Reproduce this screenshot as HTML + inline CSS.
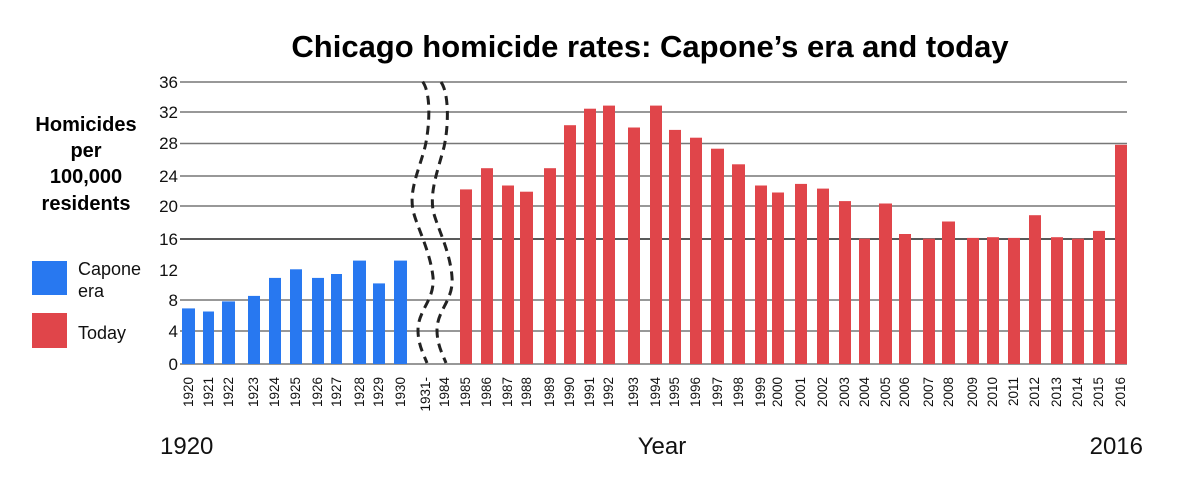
<!DOCTYPE html>
<html><head><meta charset="utf-8"><style>
body{margin:0;background:#fff;}
svg{display:block;font-family:"Liberation Sans",sans-serif;}
</style></head><body>
<svg width="1200" height="481" viewBox="0 0 1200 481" xmlns="http://www.w3.org/2000/svg">
<rect width="1200" height="481" fill="#fff"/>
<text x="650" y="57" font-size="31" font-weight="bold" text-anchor="middle" fill="#000">Chicago homicide rates: Capone’s era and today</text>
<g font-size="20" font-weight="bold" text-anchor="middle" fill="#000">
<text x="86" y="131">Homicides</text>
<text x="86" y="157">per</text>
<text x="86" y="183">100,000</text>
<text x="86" y="210">residents</text>
</g>
<rect x="32" y="261" width="35" height="34" fill="#2878f0"/>
<rect x="32" y="313" width="35" height="35" fill="#e0454a"/>
<g font-size="18" fill="#111">
<text x="78" y="275">Capone</text>
<text x="78" y="297">era</text>
<text x="78" y="339">Today</text>
</g>
<g stroke="#777" stroke-width="1.5">
<line x1="180" y1="82" x2="1127" y2="82"/>
<line x1="180" y1="112" x2="1127" y2="112"/>
<line x1="180" y1="143.5" x2="1127" y2="143.5"/>
<line x1="180" y1="176" x2="1127" y2="176"/>
<line x1="180" y1="206" x2="1127" y2="206"/>
<line x1="180" y1="239" x2="1127" y2="239" stroke="#222"/>
<line x1="180" y1="300" x2="1127" y2="300"/>
<line x1="180" y1="331" x2="1127" y2="331"/>
<line x1="180" y1="364" x2="1127" y2="364"/>
</g>
<g font-size="17" text-anchor="end" fill="#111">
<text x="178" y="88">36</text><text x="178" y="118">32</text><text x="178" y="149">28</text>
<text x="178" y="182">24</text><text x="178" y="212">20</text><text x="178" y="245">16</text>
<text x="178" y="276">12</text><text x="178" y="306">8</text><text x="178" y="337">4</text><text x="178" y="370">0</text>
</g>
<g fill="#2878f0">
<rect x="182" y="308.4" width="13" height="55.6"/>
<rect x="203" y="311.5" width="11" height="52.5"/>
<rect x="222" y="301.4" width="13" height="62.6"/>
<rect x="248" y="295.9" width="12" height="68.1"/>
<rect x="269" y="277.9" width="12" height="86.1"/>
<rect x="290" y="269.3" width="12" height="94.7"/>
<rect x="312" y="277.9" width="12" height="86.1"/>
<rect x="331" y="274" width="11" height="90"/>
<rect x="353" y="260.6" width="13" height="103.4"/>
<rect x="373" y="283.4" width="12" height="80.6"/>
<rect x="394" y="260.6" width="13" height="103.4"/>
</g>
<g fill="#e0454a">
<rect x="460" y="189.4" width="12" height="174.6"/>
<rect x="481" y="168.2" width="12" height="195.8"/>
<rect x="502" y="185.5" width="12" height="178.5"/>
<rect x="520" y="191.7" width="13" height="172.3"/>
<rect x="544" y="168.2" width="12" height="195.8"/>
<rect x="564" y="125.2" width="12" height="238.8"/>
<rect x="584" y="108.7" width="12" height="255.3"/>
<rect x="603" y="105.6" width="12" height="258.4"/>
<rect x="628" y="127.5" width="12" height="236.5"/>
<rect x="650" y="105.6" width="12" height="258.4"/>
<rect x="669" y="129.9" width="12" height="234.1"/>
<rect x="690" y="137.7" width="12" height="226.3"/>
<rect x="711" y="148.7" width="13" height="215.3"/>
<rect x="732" y="164.3" width="13" height="199.7"/>
<rect x="755" y="185.5" width="12" height="178.5"/>
<rect x="772" y="192.5" width="12" height="171.5"/>
<rect x="795" y="183.9" width="12" height="180.1"/>
<rect x="817" y="188.6" width="12" height="175.4"/>
<rect x="839" y="201.1" width="12" height="162.9"/>
<rect x="859" y="238.7" width="11" height="125.3"/>
<rect x="879" y="203.5" width="13" height="160.5"/>
<rect x="899" y="234" width="12" height="130"/>
<rect x="923" y="238.7" width="12" height="125.3"/>
<rect x="942" y="221.5" width="13" height="142.5"/>
<rect x="967" y="237.9" width="12" height="126.1"/>
<rect x="987" y="237.2" width="12" height="126.8"/>
<rect x="1008" y="237.9" width="12" height="126.1"/>
<rect x="1029" y="215.2" width="12" height="148.8"/>
<rect x="1051" y="237.2" width="12" height="126.8"/>
<rect x="1072" y="238.7" width="12" height="125.3"/>
<rect x="1093" y="230.9" width="12" height="133.1"/>
<rect x="1115" y="144.8" width="12" height="219.2"/>
</g>
<g fill="none" stroke="#222" stroke-width="3" stroke-dasharray="9,6">
<path d="M422.7,81.7 C432,95 429,130 425,147 C419,170 409,190 413,210 C416,225 430,250 433,277 C435,300 418,310 418,330 C418,345 424,355 427,363"/>
<path d="M441,82 C450,95 448,130 444,147 C438,170 430,190 433,210 C436,225 450,250 452,277 C454,300 437,310 437,330 C437,345 443,355 446,363"/>
</g>
<g font-size="13.5" text-anchor="end" fill="#111">
<text transform="translate(193,377) rotate(-90)">1920</text>
<text transform="translate(213,377) rotate(-90)">1921</text>
<text transform="translate(233,377) rotate(-90)">1922</text>
<text transform="translate(258,377) rotate(-90)">1923</text>
<text transform="translate(279,377) rotate(-90)">1924</text>
<text transform="translate(300,377) rotate(-90)">1925</text>
<text transform="translate(322,377) rotate(-90)">1926</text>
<text transform="translate(341,377) rotate(-90)">1927</text>
<text transform="translate(364,377) rotate(-90)">1928</text>
<text transform="translate(383,377) rotate(-90)">1929</text>
<text transform="translate(405,377) rotate(-90)">1930</text>
<text transform="translate(430,377) rotate(-90)">1931-</text>
<text transform="translate(449,377) rotate(-90)">1984</text>
<text transform="translate(470,377) rotate(-90)">1985</text>
<text transform="translate(491,377) rotate(-90)">1986</text>
<text transform="translate(512,377) rotate(-90)">1987</text>
<text transform="translate(531,377) rotate(-90)">1988</text>
<text transform="translate(554,377) rotate(-90)">1989</text>
<text transform="translate(574,377) rotate(-90)">1990</text>
<text transform="translate(594,377) rotate(-90)">1991</text>
<text transform="translate(613,377) rotate(-90)">1992</text>
<text transform="translate(638,377) rotate(-90)">1993</text>
<text transform="translate(660,377) rotate(-90)">1994</text>
<text transform="translate(679,377) rotate(-90)">1995</text>
<text transform="translate(700,377) rotate(-90)">1996</text>
<text transform="translate(722,377) rotate(-90)">1997</text>
<text transform="translate(743,377) rotate(-90)">1998</text>
<text transform="translate(765,377) rotate(-90)">1999</text>
<text transform="translate(782,377) rotate(-90)">2000</text>
<text transform="translate(805,377) rotate(-90)">2001</text>
<text transform="translate(827,377) rotate(-90)">2002</text>
<text transform="translate(849,377) rotate(-90)">2003</text>
<text transform="translate(869,377) rotate(-90)">2004</text>
<text transform="translate(890,377) rotate(-90)">2005</text>
<text transform="translate(909,377) rotate(-90)">2006</text>
<text transform="translate(933,377) rotate(-90)">2007</text>
<text transform="translate(953,377) rotate(-90)">2008</text>
<text transform="translate(977,377) rotate(-90)">2009</text>
<text transform="translate(997,377) rotate(-90)">2010</text>
<text transform="translate(1018,377) rotate(-90)">2011</text>
<text transform="translate(1039,377) rotate(-90)">2012</text>
<text transform="translate(1061,377) rotate(-90)">2013</text>
<text transform="translate(1082,377) rotate(-90)">2014</text>
<text transform="translate(1103,377) rotate(-90)">2015</text>
<text transform="translate(1125,377) rotate(-90)">2016</text>
</g>
<g font-size="24" fill="#111">
<text x="160" y="454">1920</text>
<text x="662" y="454" text-anchor="middle">Year</text>
<text x="1143" y="454" text-anchor="end">2016</text>
</g>
</svg>
</body></html>
